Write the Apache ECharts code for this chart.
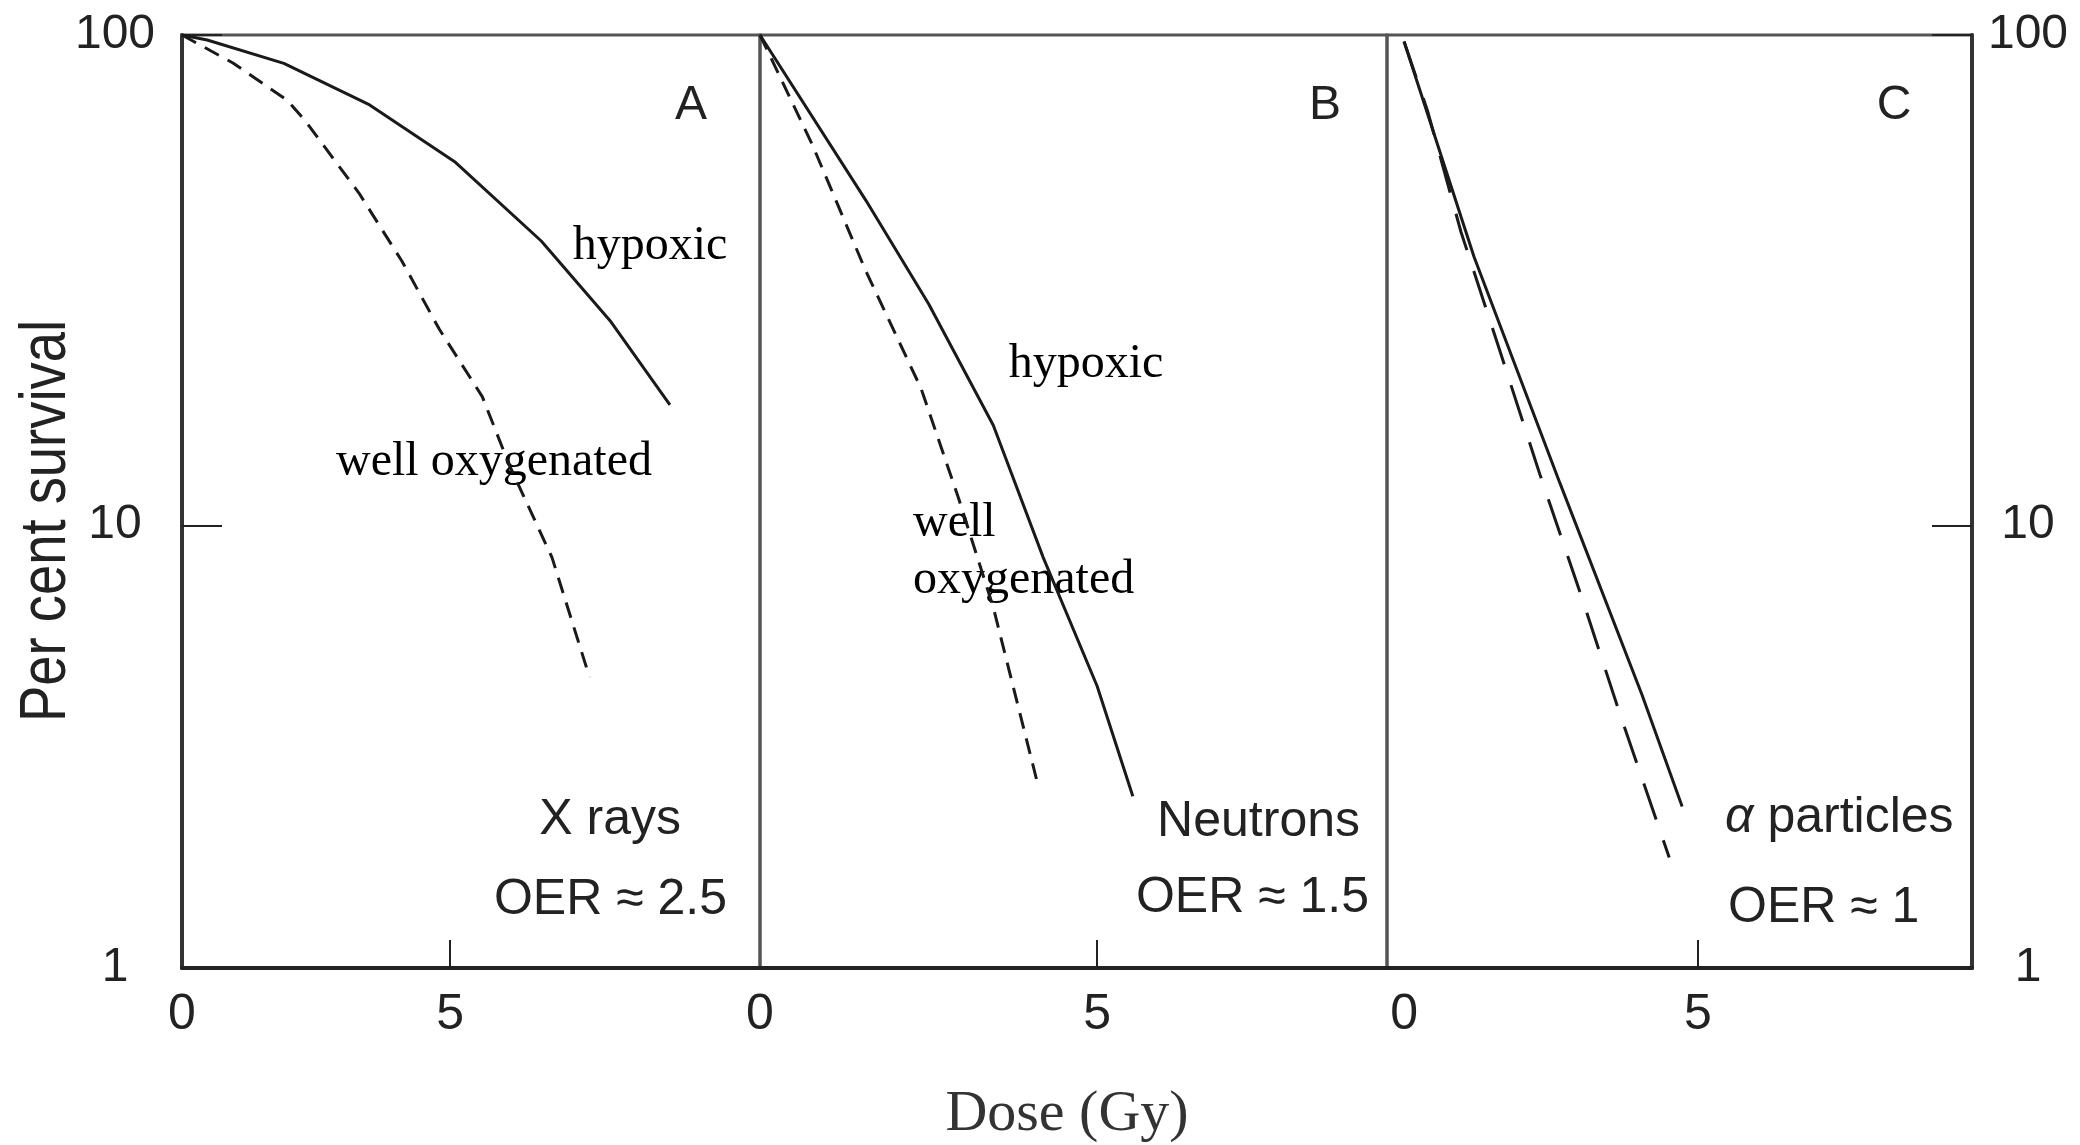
<!DOCTYPE html>
<html>
<head>
<meta charset="utf-8">
<title>Per cent survival vs dose</title>
<script src="https://cdn.jsdelivr.net/npm/echarts@6/dist/echarts.min.js"></script>
<style>
  html, body { margin: 0; padding: 0; background: #fff; }
  #chart { width: 2080px; height: 1145px; }
</style>
</head>
<body>
<div id="chart"></div>
<script>
// values: dose in Gy, survival in per cent
const xrayHypoxicDose = [0, 0.47, 1.9, 3.5, 5.1, 6.7, 8.0, 9.1];
const xrayHypoxicSurv = [100, 97.7, 87.5, 72, 55, 38, 26, 17.6];
const xrayOxicDose = [0, 0.95, 1.96, 2.3, 3.3, 4.1, 4.8, 5.6, 6.1, 6.9, 7.6];
const xrayOxicSurv = [100, 87.7, 73.6, 66.8, 47.6, 34.6, 25.1, 18.3, 13.3, 8.6, 4.9];

const neutronHypoxicDose = [0, 1.57, 2.5, 3.46, 4.2, 5.0, 5.53];
const neutronHypoxicSurv = [100, 46, 28.3, 16, 8.6, 4.7, 2.8];
const neutronOxicDose = [0, 0.77, 1.57, 2.39, 2.95, 3.46, 4.11];
const neutronOxicSurv = [100, 60, 33, 19, 11.3, 6.8, 3.0];

const alphaHypoxicDose = [0, 1.19, 2.65, 4.05, 4.73];
const alphaHypoxicSurv = [97, 35.3, 12.2, 4.5, 2.67];
const alphaOxicDose = [0, 0.4, 0.97, 1.65, 2.31, 3.01, 3.69, 4.51];
const alphaOxicSurv = [97, 70, 39.6, 22.3, 12.7, 7.2, 4.06, 2.1];

// axes as printed
const doseLabels = [0, 5];
const doseTicks = [5];
const doseRangeA = [0, 10.78];
const doseRangeB = [0, 9.3];
const doseRangeC = [-0.29, 9.66];
const survTop = 100;
const survBottom = 1.25; // frame's lower edge sits ~0.9 decade under the 10 tick

const ink = '#1a1a1a';
const sans = "'Liberation Sans', Arial, sans-serif";
const serif = "'Liberation Serif', 'Times New Roman', serif";

const myChart = echarts.init(document.getElementById('chart'));

const grids = [
	{ left: 182, top: 35, width: 578, height: 933 },
	{ left: 760, top: 35, width: 627, height: 933 },
	{ left: 1387, top: 35, width: 585, height: 933 }
].map(g => Object.assign({ show: true, borderColor: '#555', borderWidth: 3 }, g));

const doseAxis = (gridIndex, range) => ({
	type: 'value',
	gridIndex: gridIndex,
	min: range[0],
	max: range[1],
	axisLine: { show: true, onZero: false, lineStyle: { color: '#222', width: 4 } },
	axisTick: { show: true, inside: true, length: 28, customValues: doseTicks, lineStyle: { color: '#222', width: 2 } },
	axisLabel: { customValues: doseLabels, margin: 22, fontSize: 50, color: '#222', fontFamily: sans },
	splitLine: { show: false }
});

// decade label: 1, 10, 100
const decadeLabel = (v) => String(Math.pow(10, Math.floor(Math.log10(v) + 1e-9)));

const survAxis = (gridIndex, shown, position, margin) => ({
	type: 'log',
	logBase: 10,
	gridIndex: gridIndex,
	position: position,
	min: survBottom,
	max: survTop,
	axisLine: { show: shown, onZero: false, lineStyle: { color: '#333', width: 4 } },
	axisTick: { show: shown, inside: true, length: 40, lineStyle: { color: '#222', width: 2 } },
	axisLabel: { show: shown, align: 'center', margin: margin, fontSize: 48, color: '#222', fontFamily: sans, formatter: decadeLabel },
	splitLine: { show: false }
});

const curve = (name, idx, dose, surv, dash) => ({
	name: name,
	type: 'line',
	xAxisIndex: idx,
	yAxisIndex: idx,
	data: dose.map((d, i) => [d, surv[i]]),
	symbol: 'none',
	silent: true,
	z: 3,
	lineStyle: { color: ink, width: 3, type: dash || 'solid' }
});

const note = (text, x, y, opts) => ({
	type: 'text',
	x: x,
	y: y,
	silent: true,
	style: Object.assign({
		text: text,
		fill: '#222',
		font: '50px ' + sans,
		textAlign: 'center',
		textVerticalAlign: 'middle'
	}, opts || {})
});

const shortDash = [16, 10];
const longDash = [38, 22];

const option = {
	animation: false,
	backgroundColor: '#fff',
	grid: grids,
	xAxis: [doseAxis(0, doseRangeA), doseAxis(1, doseRangeB), doseAxis(2, doseRangeC)],
	yAxis: [
		survAxis(0, true, 'left', 67),
		survAxis(1, false, 'left', 0),
		survAxis(2, true, 'right', 56)
	],
	series: [
		curve('X rays hypoxic', 0, xrayHypoxicDose, xrayHypoxicSurv),
		curve('X rays well oxygenated', 0, xrayOxicDose, xrayOxicSurv, shortDash),
		curve('Neutrons hypoxic', 1, neutronHypoxicDose, neutronHypoxicSurv),
		curve('Neutrons well oxygenated', 1, neutronOxicDose, neutronOxicSurv, shortDash),
		curve('α particles hypoxic', 2, alphaHypoxicDose, alphaHypoxicSurv),
		curve('α particles well oxygenated', 2, alphaOxicDose, alphaOxicSurv, longDash)
	],
	graphic: [
		note('Per cent survival', 47, 521, { font: '64px ' + sans }),
		note('Dose (Gy)', 1067, 1115, { font: '58px ' + serif, fill: '#333' }),
		// panel letters
		note('A', 691, 106, { font: '48px ' + sans }),
		note('B', 1325, 106, { font: '48px ' + sans }),
		note('C', 1894, 106, { font: '48px ' + sans }),
		// curve names
		note('hypoxic', 650, 246, { font: '48px ' + serif, fill: '#000' }),
		note('well oxygenated', 494, 462, { font: '48px ' + serif, fill: '#000' }),
		note('hypoxic', 1086, 364, { font: '48px ' + serif, fill: '#000' }),
		note('well', 913, 523, { font: '48px ' + serif, fill: '#000', textAlign: 'left' }),
		note('oxygenated', 913, 580, { font: '48px ' + serif, fill: '#000', textAlign: 'left' }),
		// radiation type and OER
		note('X rays', 681, 820, { textAlign: 'right' }),
		note('OER ≈ 2.5', 727, 900, { textAlign: 'right' }),
		note('Neutrons', 1360, 822, { textAlign: 'right' }),
		note('OER ≈ 1.5', 1369, 898, { textAlign: 'right' }),
		{
			type: 'text', x: 1725, y: 818, silent: true,
			style: {
				rich: {
					a: { fontStyle: 'italic', fontFamily: sans, fontSize: 50, fill: '#222' },
					p: { fontFamily: sans, fontSize: 50, fill: '#222' }
				},
				text: '{a|α}{p| particles}',
				textAlign: 'left',
				textVerticalAlign: 'middle'
			}
		},
		note('OER ≈ 1', 1728, 908, { textAlign: 'left' })
	]
};
// rotate the axis title and narrow it like the printed condensed face
option.graphic[0].rotation = Math.PI / 2;
option.graphic[0].scaleX = 0.85;

myChart.setOption(option);
</script>
</body>
</html>
